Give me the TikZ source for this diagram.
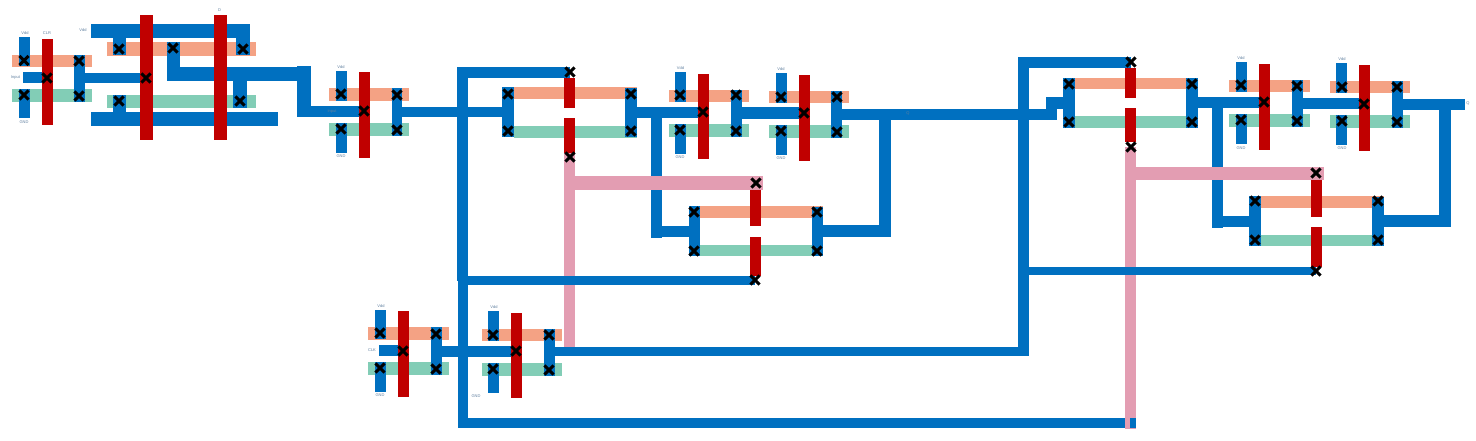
\documentclass[tikz,border=0pt]{standalone}
\usepackage{fontspec}
\setmainfont{Liberation Sans}
\definecolor{wire}{HTML}{0070C0}
\definecolor{poly}{HTML}{C00000}
\definecolor{pdiff}{HTML}{F4A284}
\definecolor{ndiff}{HTML}{82CDB6}
\definecolor{pinkm}{HTML}{E39DB2}
\definecolor{lbl}{HTML}{5F7F9F}
\newcommand{\W}[4]{\fill[wire] (#1,#2) rectangle (#3,#4);}
\newcommand{\Gt}[4]{\fill[poly] (#1,#2) rectangle (#3,#4);}
\newcommand{\Pd}[4]{\fill[pdiff] (#1,#2) rectangle (#3,#4);}
\newcommand{\Nd}[4]{\fill[ndiff] (#1,#2) rectangle (#3,#4);}
\newcommand{\Pk}[4]{\fill[pinkm] (#1,#2) rectangle (#3,#4);}
\newcommand{\X}[2]{\draw[black,line width=3pt] (#1-4.6,#2-4.6) -- (#1+4.6,#2+4.6) (#1-4.6,#2+4.6) -- (#1+4.6,#2-4.6);}
\newcommand{\Lb}[3]{\node[font=\fontsize{4}{4.5}\selectfont,text=lbl,inner sep=0pt] at (#1,#2) {#3};}
\begin{document}
\begin{tikzpicture}[x=1pt,y=-1pt]
\useasboundingbox (0,0) rectangle (1476,440);
% ---------- diffusion
\Pd{12}{55}{92}{67} \Nd{12}{89}{92}{102}
\Pd{107}{42}{256}{56} \Nd{107}{95}{256}{108}
\Pd{329}{88}{409}{101} \Nd{329}{123}{409}{136}
\Pd{514}{87}{637}{99} \Nd{514}{126}{637}{138}
\Pd{669}{90}{749}{102} \Nd{669}{124}{749}{137}
\Pd{769}{91}{849}{103} \Nd{769}{125}{849}{138}
\Pd{700}{206}{823}{218} \Nd{700}{245}{823}{256}
\Pd{368}{327}{449}{340} \Nd{368}{362}{449}{375}
\Pd{482}{329}{562}{341} \Nd{482}{363}{562}{376}
\Pd{1075}{78}{1198}{89} \Nd{1075}{116}{1198}{128}
\Pd{1229}{80}{1310}{92} \Nd{1229}{114}{1310}{127}
\Pd{1330}{81}{1410}{93} \Nd{1330}{115}{1410}{128}
\Pd{1261}{196}{1384}{208} \Nd{1261}{235}{1384}{246}
% ---------- blue wires
% inverter 1
\W{19}{37}{30}{66} \W{19}{89}{30}{118} \W{23}{72}{52}{83} \W{74}{55}{85}{102} \W{85}{73}{146}{83}
% gate 2
\W{91}{24}{250}{38} \W{236}{24}{250}{55} \W{113}{25}{126}{55}
\W{167}{42}{180}{81} \W{167}{67}{311}{81} \W{233}{80}{247}{108}
\W{91}{112}{278}{126} \W{113}{95}{126}{112}
\W{297}{66}{311}{117} \W{297}{106}{364}{117}
% inverter 3
\W{336}{71}{347}{101} \W{336}{123}{347}{153} \W{392}{88}{402}{136} \W{402}{107}{502}{117}
% TG 1 and feedback
\W{457}{67}{468}{281} \W{458}{275}{468}{428} \W{457}{67}{570}{78}
\W{502}{87}{514}{137} \W{625}{88}{637}{137}
\W{637}{107}{703}{118} \W{651}{107}{662}{238} \W{651}{226}{695}{237}
% inverter 4 and 5
\W{675}{72}{686}{102} \W{675}{124}{686}{154} \W{731}{90}{742}{137} \W{742}{107}{804}{119}
\W{776}{73}{787}{103} \W{776}{125}{787}{155} \W{831}{91}{842}{138} \W{842}{109}{1057}{120}
% TG 2
\W{689}{206}{700}{256} \W{812}{207}{823}{256} \W{823}{225}{891}{237} \W{879}{110}{891}{237}
% clock inverters
\W{375}{310}{386}{339} \W{375}{362}{386}{392} \W{379}{345}{409}{356} \W{431}{327}{442}{375} \W{442}{346}{516}{357}
\W{488}{311}{499}{341} \W{488}{363}{499}{393} \W{544}{329}{555}{376} \W{555}{347}{1029}{356}
% second latch
\W{1018}{57}{1029}{355} \W{1018}{57}{1131}{68}
\W{1046}{97}{1057}{120} \W{1046}{97}{1065}{109}
\W{1063}{78}{1075}{128} \W{1186}{78}{1198}{128}
\W{1198}{97}{1264}{108} \W{1212}{97}{1223}{228} \W{1212}{216}{1255}{227}
\W{1236}{62}{1247}{92} \W{1236}{114}{1247}{144} \W{1292}{80}{1303}{127} \W{1303}{98}{1364}{109}
\W{1336}{63}{1347}{93} \W{1336}{115}{1347}{145} \W{1392}{81}{1403}{128} \W{1403}{99}{1465}{110}
\W{1249}{196}{1261}{246} \W{1372}{197}{1384}{246} \W{1384}{215}{1451}{227} \W{1439}{100}{1451}{227}
% ---------- pink metal: over the feedback wires
\Pk{564}{153}{575}{347}
\Pk{564}{176}{763}{190}
\W{458}{418}{1130}{428}
\Pk{1125}{147}{1136}{429}
\Pk{1125}{167}{1324}{180}
\W{1130}{418}{1136}{428}
% ---------- wires that pass over the pink
\W{458}{276}{755}{285}
\W{1029}{267}{1316}{275}
% ---------- poly gates
\Gt{42}{39}{53}{125}
\Gt{140}{15}{153}{140} \Gt{214}{15}{227}{140}
\Gt{359}{72}{370}{158}
\Gt{564}{78}{575}{108} \Gt{564}{118}{575}{153}
\Gt{698}{74}{709}{159} \Gt{799}{75}{810}{161}
\Gt{750}{190}{761}{226} \Gt{750}{237}{761}{276}
\Gt{398}{311}{409}{397} \Gt{511}{313}{522}{398}
\Gt{1125}{68}{1136}{98} \Gt{1125}{108}{1136}{142}
\Gt{1259}{64}{1270}{150} \Gt{1359}{65}{1370}{151}
\Gt{1311}{180}{1322}{217} \Gt{1311}{227}{1322}{267}
% ---------- contacts
\X{24}{60.5}\X{79}{61}\X{47}{78}\X{24}{95}\X{79}{96}\X{146}{78}
\X{119}{49}\X{173}{48}\X{243}{49}\X{119}{101}\X{240}{101}
\X{341}{94}\X{397}{95}\X{364}{111}\X{341}{129}\X{397}{130}
\X{570}{72}\X{508}{94}\X{631}{94}\X{508}{131}\X{631}{131}\X{570}{157}
\X{680}{95}\X{736}{95}\X{703}{112}\X{680}{130}\X{736}{131}
\X{781}{97}\X{837}{97}\X{804}{113}\X{781}{131}\X{837}{132}
\X{694}{212}\X{817}{212}\X{694}{251}\X{817}{251}\X{756}{183}\X{755}{280}
\X{380}{333}\X{436}{334}\X{403}{351}\X{380}{368}\X{436}{369}
\X{493}{335}\X{549}{335}\X{516}{351}\X{493}{369}\X{549}{370}
\X{1131}{62}\X{1069}{84}\X{1192}{84}\X{1069}{122}\X{1192}{122}\X{1131}{147}
\X{1241}{85}\X{1297}{86}\X{1264}{102}\X{1241}{120}\X{1297}{121}
\X{1342}{87}\X{1397}{87}\X{1364}{104}\X{1342}{121}\X{1397}{122}
\X{1255}{201}\X{1378}{201}\X{1255}{240}\X{1378}{240}\X{1316}{173}\X{1316}{271}
% ---------- labels
\Lb{25}{33.5}{Vdd}\Lb{47}{33.5}{CLR}\Lb{15.5}{77.5}{Input}\Lb{24}{122.5}{GND}
\Lb{83}{30.5}{Vdd}\Lb{219.5}{10.5}{D}
\Lb{341}{67}{Vdd}\Lb{341}{156.5}{GND}\Lb{332}{111.5}{Input}
\Lb{680.5}{68.5}{Vdd}\Lb{680}{157.5}{GND}
\Lb{781}{69.5}{Vdd}\Lb{781}{158.5}{GND}\Lb{908}{113.5}{Q}
\Lb{381}{306.5}{Vdd}\Lb{372}{350.5}{CLK}\Lb{380}{395.5}{GND}
\Lb{494}{307.5}{Vdd}\Lb{476}{396.5}{GND}
\Lb{1241}{58.5}{Vdd}\Lb{1241}{148.5}{GND}
\Lb{1342}{59.5}{Vdd}\Lb{1342}{148.5}{GND}
\Lb{1468}{103.5}{Q}
\end{tikzpicture}
\end{document}
